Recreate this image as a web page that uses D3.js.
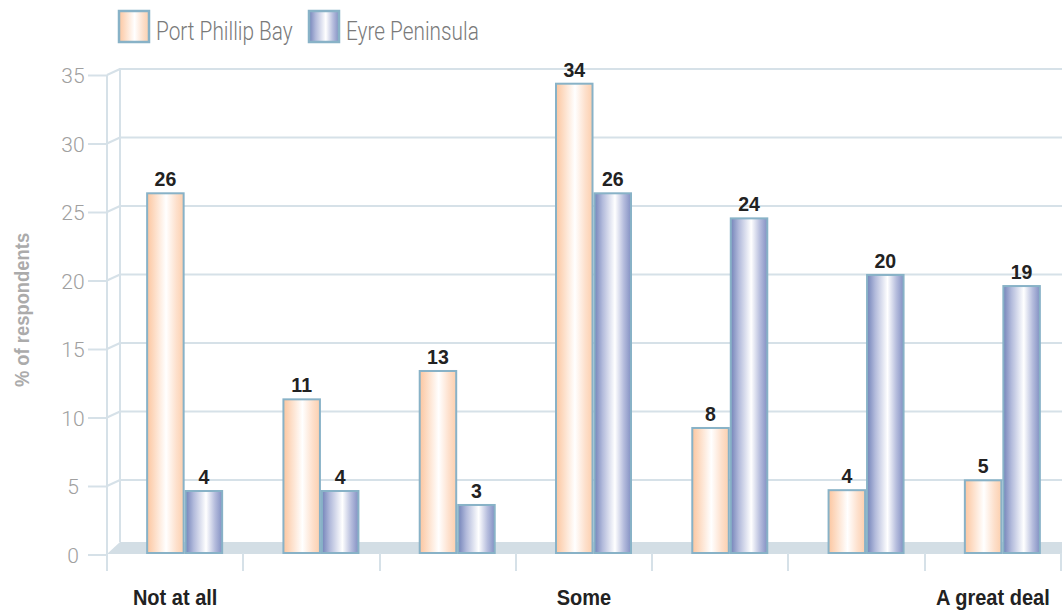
<!DOCTYPE html>
<html>
<head>
<meta charset="utf-8">
<script src="https://cdn.jsdelivr.net/npm/d3@7"></script>
<style>
  html, body { margin: 0; padding: 0; background: #ffffff; }
  svg { display: block; }
</style>
</head>
<body>
<svg id="chart" width="1062" height="613"></svg>
<script>
// ---- data ----
const categories = ["Not at all", "", "", "Some", "", "", "A great deal"];
const seriesNames = ["Port Phillip Bay", "Eyre Peninsula"];
const portPhillipValues = [26.0, 10.96, 13.03, 34.0, 8.87, 4.33, 5.05];
const eyreValues = [4.27, 4.27, 3.25, 26.0, 24.17, 20.04, 19.23];
const portPhillipLabels = ["26", "11", "13", "34", "8", "4", "5"];
const eyreLabels = ["4", "4", "3", "26", "24", "20", "19"];
const yTicks = [0, 5, 10, 15, 20, 25, 30, 35];
const yTitle = "% of respondents";

// ---- layout ----
const svg = d3.select("#chart");
const W = 1062;
const frontX = 107, depthX = 13, depthY = 6;
const backX = frontX + depthX;
const sans = "'Liberation Sans', Arial, Helvetica, sans-serif";
const light = "Roboto, 'Liberation Sans', Arial, sans-serif";
const gridColor = "#d6e1e8";

const y = d3.scaleLinear().domain([0, 35]).range([548.5, 69]); // back wall
const yFront = v => y(v) + depthY;

const x = d3.scaleBand().domain(d3.range(categories.length)).range([frontX, 1061]).padding(0);
const xs = d3.scaleBand().domain([0, 1]).range([0, 77]).padding(0);
const barShift = 9.5;

// helper: horizontally condensed text
function ctext(parent, tx, ty, sx, txt, anchor) {
  return parent.append("text")
    .attr("transform", `translate(${tx},${ty}) scale(${sx},1)`)
    .attr("text-anchor", anchor || "middle")
    .text(txt);
}

// gradients
const defs = svg.append("defs");
function grad(id, stops) {
  const g = defs.append("linearGradient").attr("id", id).attr("x1", "0").attr("x2", "1").attr("y1", "0").attr("y2", "0");
  stops.forEach(s => g.append("stop").attr("offset", s[0]).attr("stop-color", s[1]));
}
grad("gOrange", [[0, "#fcc6a0"], [0.2, "#fddcc4"], [0.52, "#ffffff"], [0.8, "#fde0cc"], [1, "#fccfae"]]);
grad("gBlue", [[0, "#7383b9"], [0.22, "#b2badb"], [0.56, "#ffffff"], [0.8, "#b6bddd"], [1, "#8390c3"]]);

// floor
svg.append("polygon")
  .attr("points", [[frontX, 554], [backX, 542], [W, 542], [W, 554]].map(p => p.join(",")).join(" "))
  .attr("fill", "#d3dee5");

// back wall gridlines
const grid = svg.append("g");
yTicks.forEach(t => {
  if (t === 0) return;
  grid.append("line").attr("x1", backX).attr("x2", W).attr("y1", y(t)).attr("y2", y(t))
    .attr("stroke", gridColor).attr("stroke-width", 2);
  grid.append("line").attr("x1", frontX).attr("x2", backX).attr("y1", yFront(t)).attr("y2", y(t))
    .attr("stroke", gridColor).attr("stroke-width", 2);
});
grid.append("line").attr("x1", backX).attr("x2", backX).attr("y1", y(35) - 1).attr("y2", 542)
  .attr("stroke", gridColor).attr("stroke-width", 2);

// front value axis
const yAxisG = svg.append("g").attr("transform", `translate(${frontX},${depthY})`)
  .call(d3.axisLeft(y).tickValues(yTicks).tickSize(19).tickPadding(0));
yAxisG.select(".domain").remove();
yAxisG.selectAll(".tick line").attr("stroke", gridColor).attr("stroke-width", 2);
yAxisG.selectAll(".tick text")
  .attr("x", -34).attr("text-anchor", "middle").attr("dy", "0.36em")
  .attr("fill", "#a0a0a0").style("font-family", light).style("font-size", "21px").style("font-weight", "300");
svg.append("line").attr("x1", frontX).attr("x2", frontX).attr("y1", yFront(35)).attr("y2", 571)
  .attr("stroke", gridColor).attr("stroke-width", 2);

// category ticks at band boundaries
const bounds = d3.range(categories.length + 1).map(i => x.range()[0] + i * x.step());
svg.append("g").selectAll("line").data(bounds.slice(1)).join("line")
  .attr("x1", d => Math.round(d)).attr("x2", d => Math.round(d)).attr("y1", 553).attr("y2", 571)
  .attr("stroke", gridColor).attr("stroke-width", 2);

// bars
const series = [
  { vals: portPhillipValues, labels: portPhillipLabels, fill: "url(#gOrange)" },
  { vals: eyreValues, labels: eyreLabels, fill: "url(#gBlue)" }
];
const barG = svg.append("g");
const labG = svg.append("g").attr("fill", "#222").style("font-family", sans).style("font-weight", "bold").style("font-size", "21px");
series.forEach((s, si) => {
  s.vals.forEach((v, ci) => {
    const x0 = x(ci) + x.bandwidth() / 2 + barShift - 38.5 + xs(si);
    barG.append("rect")
      .attr("x", x0 + 1).attr("y", y(v) + 1)
      .attr("width", xs.bandwidth() - 2).attr("height", 553 - y(v) - 1)
      .attr("fill", s.fill).attr("stroke", "#88b2c7").attr("stroke-width", 2);
    ctext(labG, x0 + xs.bandwidth() / 2, y(v) - 6, 0.93, s.labels[ci]);
  });
});

// category labels
const catG = svg.append("g").attr("fill", "#222").style("font-family", sans).style("font-weight", "bold").style("font-size", "22px");
categories.forEach((c, i) => {
  if (c) ctext(catG, x(i) + x.bandwidth() / 2, 605, 0.91, c);
});

// y title
svg.append("text")
  .attr("transform", "translate(29,310) rotate(-90) scale(0.92,1)")
  .attr("text-anchor", "middle").attr("fill", "#ababab")
  .style("font-family", sans).style("font-weight", "bold").style("font-size", "20px")
  .text(yTitle);

// legend
const legend = [
  { name: seriesNames[0], fill: "url(#gOrange)", sx: 118, tx: 156 },
  { name: seriesNames[1], fill: "url(#gBlue)", sx: 308, tx: 346 }
];
const legG = svg.append("g").attr("fill", "#7a7a7a").style("font-family", light).style("font-size", "26px").style("font-weight", "300");
legend.forEach(l => {
  svg.append("rect").attr("x", l.sx + 1).attr("y", 11).attr("width", 30).attr("height", 31)
    .attr("fill", l.fill).attr("stroke", "#88b2c7").attr("stroke-width", 2.5);
  ctext(legG, l.tx, 40, 0.8, l.name, "start");
});
</script>
</body>
</html>
